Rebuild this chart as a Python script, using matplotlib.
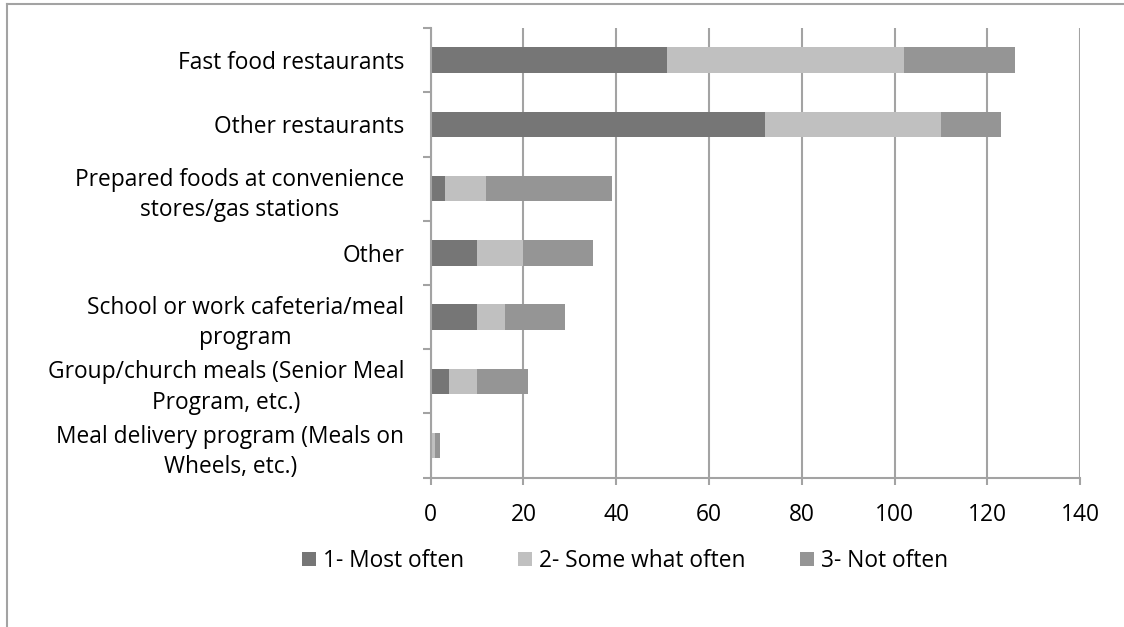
import numpy as np
import matplotlib
matplotlib.use("Agg")
import matplotlib.pyplot as plt
from matplotlib.patches import Patch

plt.rcParams['font.family'] = ['Open Sans', 'DejaVu Sans']

categories = [
    "Fast food restaurants",
    "Other restaurants",
    "Prepared foods at convenience\nstores/gas stations",
    "Other",
    "School or work cafeteria/meal\nprogram",
    "Group/church meals (Senior Meal\nProgram, etc.)",
    "Meal delivery program (Meals on\nWheels, etc.)",
]
most_often = [51, 72, 3, 10, 10, 4, 0]
somewhat_often = [51, 38, 9, 10, 6, 6, 1]
not_often = [24, 13, 27, 15, 13, 11, 1]
series_names = ["1- Most often", "2- Some what often", "3- Not often"]
colors = ["#767676", "#c0c0c0", "#959595"]
x_ticks = [0, 20, 40, 60, 80, 100, 120, 140]

grey = "#a3a3a3"
fs = 16.4

fig = plt.figure(figsize=(11.24, 6.27), dpi=100)
ax = fig.add_axes([0.3832, 0.2381, 0.9609 - 0.3832, 0.9553 - 0.2381])

y = np.arange(len(categories))
left = np.zeros(len(categories))
for vals, name, c in zip([most_often, somewhat_often, not_often], series_names, colors):
    ax.barh(y, vals, left=left, height=0.4, color=c, label=name, zorder=3)
    left += np.array(vals)

ax.set_ylim(len(categories) - 0.5, -0.5)
ax.set_xlim(0, 140)
ax.set_xticks(x_ticks)
ax.set_xticklabels([str(t) for t in x_ticks], fontsize=fs)

ax.set_yticks(y)
ax.set_yticklabels(categories, fontsize=fs, multialignment='center', linespacing=1.35)
ax.set_yticks(np.arange(-0.5, len(categories)), minor=True)
ax.tick_params(axis='y', which='major', length=0, pad=19)
ax.tick_params(axis='y', which='minor', length=8 * 0.72, width=1.5, color=grey, direction='out')
ax.tick_params(axis='x', which='major', length=7 * 0.72, width=1.5, color=grey, pad=13)

ax.grid(axis='x', color=grey, linewidth=1.5, zorder=0)
for s in ['top', 'right']:
    ax.spines[s].set_visible(False)
for s in ['left', 'bottom']:
    ax.spines[s].set_color(grey)
    ax.spines[s].set_linewidth(1.5)
    ax.spines[s].set_zorder(4)

handles = [Patch(facecolor=c, label=n) for c, n in zip(colors, series_names)]
fig.legend(handles=handles, loc='center', bbox_to_anchor=(0.556, 1 - 561 / 627),
           ncol=3, frameon=False, fontsize=fs, handlelength=0.6, handleheight=0.6,
           handletextpad=0.3, columnspacing=2.4)

# chart frame, clipped on the right and bottom
fig.add_artist(plt.Line2D([7 / 1124, 1], [1 - 4 / 627, 1 - 4 / 627], color=grey, linewidth=1.5))
fig.add_artist(plt.Line2D([7 / 1124, 7 / 1124], [0, 1 - 4 / 627], color=grey, linewidth=1.5))

fig.savefig("out.png", dpi=100)
